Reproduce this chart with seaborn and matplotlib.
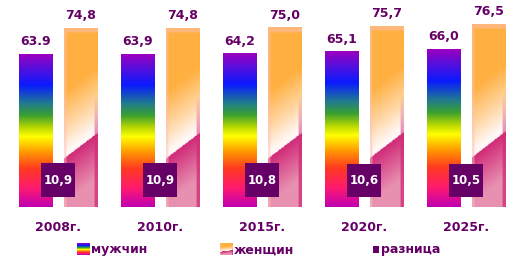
import numpy as np
import pandas as pd
import matplotlib
matplotlib.use("Agg")
import matplotlib.pyplot as plt
import seaborn as sns
from matplotlib.colors import LinearSegmentedColormap, to_rgb
from matplotlib.legend_handler import HandlerBase, HandlerPatch
from matplotlib.image import BboxImage
from matplotlib.transforms import Bbox, TransformedBbox
from matplotlib.patches import Patch, Rectangle

# ---- data ----
years = ['2008г.', '2010г.', '2015г.', '2020г.', '2025г.']
men = [63.9, 63.9, 64.2, 65.1, 66.0]
women = [74.8, 74.8, 75.0, 75.7, 76.5]
diff = [10.9, 10.9, 10.8, 10.6, 10.5]
men_labels = ['63.9', '63,9', '64,2', '65,1', '66,0']
women_labels = ['74,8', '74,8', '75,0', '75,7', '76,5']
diff_labels = ['10,9', '10,9', '10,8', '10,6', '10,5']
series_names = ['мужчин', 'женщин', 'разница']

PURPLE = '#660066'

sns.set_theme(style='white')
plt.rcParams['font.family'] = ['DejaVu Sans']

df = pd.DataFrame({
    'year': years * 2,
    'value': men + women,
    'series': [series_names[0]] * len(years) + [series_names[1]] * len(years),
})

fig = plt.figure(figsize=(5.17, 2.69), dpi=100)
ax = fig.add_axes([7 / 517, 62 / 269, 510 / 517, 197 / 269])

sns.barplot(data=df, x='year', y='value', hue='series', order=years,
            hue_order=series_names[:2], palette=['#8800aa', '#ffb050'],
            width=0.88, gap=0.264, legend=False, ax=ax, errorbar=None)

# gradients
rainbow = LinearSegmentedColormap.from_list('rb', [
    (0.0, '#c000b0'), (0.12, '#ff1a70'), (0.25, '#ff3a20'), (0.36, '#ff9a00'),
    (0.46, '#ffff00'), (0.52, '#b8d800'), (0.60, '#3aa030'), (0.68, '#207a90'),
    (0.80, '#0a1aff'), (0.90, '#5010e0'), (1.0, '#9a00c0')])


def men_img(nv=200, nu=20):
    v = np.linspace(0, 1, nv)[:, None] * np.ones((1, nu))
    return rainbow(v)[..., :3]


def women_img(nv=200, nu=40):
    u = np.linspace(0, 1, nu)[None, :] * np.ones((nv, 1))
    v = np.linspace(0, 1, nv)[:, None] * np.ones((1, nu))
    orange = np.array(to_rgb('#ffb040'))
    peach = np.array(to_rgb('#ffd8a8'))
    white = np.array([1.0, 0.97, 0.96])
    magenta = np.array(to_rgb('#d02a78'))
    pink = np.array(to_rgb('#e890b0'))
    s = v - (0.27 + 0.14 * u)
    t = np.clip((s - 0.03) / 0.34, 0, 1)[..., None]
    upper = np.where(t < 0.4, white + (peach - white) * (t / 0.4),
                     peach + (orange - peach) * np.clip((t - 0.4) / 0.6, 0, 1))
    lower_t = np.clip(-s / 0.25, 0, 1)[..., None]
    lower = magenta + (pink - magenta) * lower_t
    img = np.where((s < 0)[..., None], lower, upper)
    # right edge magenta strip fading upward
    strip = (u > 0.92) & (v < 0.62)
    fade = np.clip((0.62 - v) / 0.3, 0, 1)
    a = (0.75 * fade)[strip][:, None]
    img[strip] = img[strip] * (1 - a) + magenta * a
    # light left edge and top edge
    edge = (u < 0.07) | (v > 0.97)
    img[edge] = img[edge] * 0.5 + np.array([1.0, 0.75, 0.72]) * 0.5
    return img


MEN_IMG = men_img()
WOMEN_IMG = women_img()

for cont, img in zip(ax.containers[:2], [MEN_IMG, WOMEN_IMG]):
    for p in cont.patches:
        x, y, w, h = p.get_x(), p.get_y(), p.get_width(), p.get_height()
        im = ax.imshow(img, extent=[x, x + w, y, y + h], aspect='auto',
                       origin='lower', interpolation='bilinear', zorder=2)
        im.set_clip_path(p)
        p.set_facecolor('none')
        p.set_edgecolor('none')

# value labels
for cont, labels in zip(ax.containers[:2], [men_labels, women_labels]):
    for p, lab in zip(cont.patches, labels):
        ax.annotate(lab, (p.get_x() + p.get_width() / 2, p.get_height()),
                    xytext=(0, 4), textcoords='offset points', ha='center',
                    va='bottom', fontsize=9, fontweight='bold', color=PURPLE)

ax.set_xlim(-0.5, len(years) - 0.5)
ax.set_ylim(0, 82.3)

# difference bars on a twin axis
ax2 = ax.twinx()
sns.barplot(x=years, y=diff, order=years, color=PURPLE, width=0.324,
            saturation=1, ax=ax2, errorbar=None, zorder=5)
ax2.set_ylim(-3.2, 60)
ax2.set_xlim(-0.5, len(years) - 0.5)
for p, lab in zip(ax2.patches, diff_labels):
    p.set_edgecolor('none')
    ax2.text(p.get_x() + p.get_width() / 2, p.get_height() / 2, lab,
             ha='center', va='center', fontsize=8.5, fontweight='bold',
             color='white', zorder=6)

for a in (ax, ax2):
    for sp in a.spines.values():
        sp.set_visible(False)
    a.set_ylabel('')
    a.set_xlabel('')
    a.set_yticks([])
ax.tick_params(axis='x', length=0, pad=10)
for lbl in ax.get_xticklabels():
    lbl.set_fontweight('bold')
    lbl.set_fontsize(9)
    lbl.set_color(PURPLE)
ax2.tick_params(axis='x', length=0, labelbottom=False)


class HandlerImg(HandlerBase):
    def __init__(self, arr):
        super().__init__()
        self.arr = arr

    def create_artists(self, legend, orig_handle, xdescent, ydescent, width,
                       height, fontsize, trans):
        bb = Bbox.from_bounds(-xdescent, -ydescent, width, height)
        tbb = TransformedBbox(bb, trans)
        im = BboxImage(tbb, origin='lower', interpolation='bilinear')
        im.set_data(self.arr)
        return [im]


def small_square(legend, orig_handle, xdescent, ydescent, width, height, fontsize):
    s = height * 0.6
    return Rectangle((-xdescent + width - s, -ydescent + (height - s) / 2), s, s)


h_men = Patch(label=series_names[0])
h_wom = Patch(label=series_names[1])
h_dif = Patch(facecolor=PURPLE, edgecolor='none', label=series_names[2])
leg = fig.legend(handles=[h_men, h_wom, h_dif], loc='center',
                 bbox_to_anchor=(0.5, 1 - 250 / 269), ncol=3, frameon=False,
                 handlelength=1.0, handleheight=1.0, handletextpad=0.15,
                 columnspacing=5.8, prop={'weight': 'bold', 'size': 9},
                 handler_map={h_men: HandlerImg(MEN_IMG), h_wom: HandlerImg(WOMEN_IMG),
                              h_dif: HandlerPatch(patch_func=small_square)})
for t in leg.get_texts():
    t.set_color(PURPLE)

fig.savefig('out.png', dpi=100, facecolor='white')
